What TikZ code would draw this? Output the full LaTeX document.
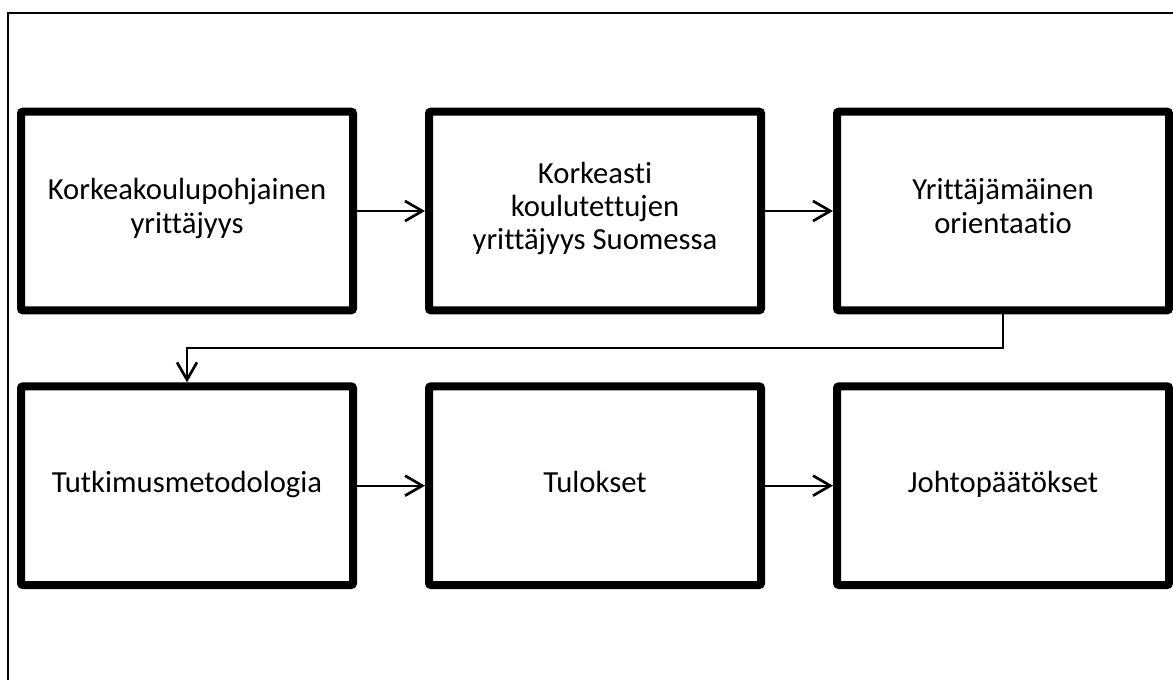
\documentclass[tikz,border=0pt]{standalone}
\usepackage{fontspec}
\setmainfont[Ligatures=NoCommon]{Carlito}
\usetikzlibrary{positioning,arrows.meta,calc}

\begin{document}
\begin{tikzpicture}[x=0.75pt, y=-0.75pt,
    box/.style={draw, line width=6pt, rounded corners=1.5pt, minimum width=249pt,
      minimum height=149pt, align=center, font=\fontsize{23}{25}\selectfont,
      execute at begin node=\strut, execute at end node=\strut},
    link/.style={line width=1.5pt, -{Straight Barb[length=13pt, width=15pt, line width=2pt]}},
    node distance=51pt]
    \clip (0,0) rectangle (1173,679);
    \draw[line width=1.5pt] (8,13) rectangle (1190,700);
    \node[box] (yrit) at (187,211) {Korkeakoulupohjainen\\yrittäjyys};
    \node[box, right=of yrit] (korkea) {Korkeasti\\koulutettujen\\yrittäjyys Suomessa};
    \node[box, right=of korkea] (orient) {Yrittäjämäinen\\orientaatio};
    \node[box, below=of yrit] (metod) {Tutkimusmetodologia};
    \node[box, right=of metod] (tulos) {Tulokset};
    \node[box, right=of tulos] (johto) {Johtopäätökset};
    \draw[link] (yrit) -- (korkea);
    \draw[link] (korkea) -- (orient);
    \draw[link] (orient.south) |- ($(orient.south)!0.5!(metod.north)$) -| (metod.north);
    \draw[link] (metod) -- (tulos);
    \draw[link] (tulos) -- (johto);
\end{tikzpicture}
\end{document}
